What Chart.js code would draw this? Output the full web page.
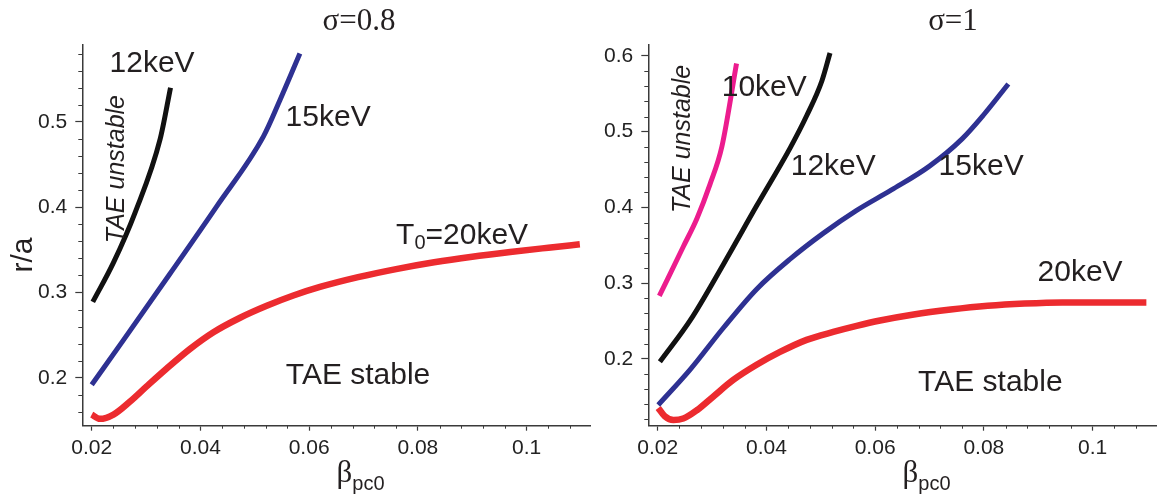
<!DOCTYPE html>
<html>
<head>
<meta charset="utf-8">
<script src="https://cdn.jsdelivr.net/npm/chart.js@4.4.1/dist/chart.umd.min.js"></script>
<style>
  html, body { margin: 0; padding: 0; background: #fff; }
  #wrap { position: relative; width: 1161px; height: 498px; }
  #left { position: absolute; left: 0; top: 0; }
  #right { position: absolute; left: 600px; top: 0; }
</style>
</head>
<body>
<div id="wrap">
  <canvas id="left" width="600" height="498"></canvas>
  <canvas id="right" width="561" height="498"></canvas>
</div>
<script>
// ---- sigma = 0.8 panel ----
var s08_12_beta = [0.0202, 0.0240, 0.0280, 0.0326, 0.0345];
var s08_12_ra   = [0.289, 0.335, 0.394, 0.480, 0.540];

var s08_15_beta = [0.0200, 0.0258, 0.0344, 0.0430, 0.0516, 0.0546, 0.0583];
var s08_15_ra   = [0.192, 0.244, 0.322, 0.401, 0.483, 0.525, 0.580];

var s08_20_beta = [0.0200, 0.0215, 0.0240, 0.0270, 0.0301, 0.0338, 0.0381, 0.0424, 0.0473, 0.0522, 0.0571, 0.0620, 0.0690, 0.0760, 0.0830, 0.0900, 0.0970, 0.1040, 0.1098];
var s08_20_ra   = [0.157, 0.152, 0.157, 0.172, 0.190, 0.211, 0.234, 0.2535, 0.2705, 0.2845, 0.2965, 0.3065, 0.318, 0.3275, 0.3355, 0.342, 0.3475, 0.3525, 0.3565];

// ---- sigma = 1 panel ----
var s1_10_beta = [0.0203, 0.0247, 0.0272, 0.0296, 0.0318, 0.0345];
var s1_10_ra   = [0.283, 0.348, 0.385, 0.430, 0.480, 0.590];

var s1_12_beta = [0.0204, 0.0260, 0.0321, 0.0382, 0.0444, 0.0474, 0.0502, 0.0517];
var s1_12_ra   = [0.196, 0.251, 0.325, 0.402, 0.479, 0.521, 0.567, 0.604];

var s1_15_beta = [0.0201, 0.0260, 0.0321, 0.0382, 0.0444, 0.0505, 0.0566, 0.0630, 0.0700, 0.0760, 0.0799, 0.0845];
var s1_15_ra   = [0.139, 0.186, 0.241, 0.292, 0.332, 0.366, 0.396, 0.423, 0.4545, 0.4905, 0.5217, 0.563];

var s1_20_beta = [0.0201, 0.0213, 0.0229, 0.0247, 0.0272, 0.0302, 0.0339, 0.0382, 0.0425, 0.0474, 0.0523, 0.0566, 0.0609, 0.0671, 0.0739, 0.0807, 0.0875, 0.0944, 0.1099];
var s1_20_ra   = [0.135, 0.124, 0.119, 0.121, 0.132, 0.150, 0.172, 0.192, 0.209, 0.225, 0.2355, 0.2435, 0.2505, 0.2585, 0.265, 0.270, 0.273, 0.2745, 0.2745];

// ---- ticks ----
var xTicks = [0.02, 0.04, 0.06, 0.08, 0.1];
var xTickLabels = ['0.02', '0.04', '0.06', '0.08', '0.1'];
var xMinor = [0.024, 0.028, 0.032, 0.036, 0.044, 0.048, 0.052, 0.056, 0.064, 0.068, 0.072, 0.076,
              0.084, 0.088, 0.092, 0.096, 0.104, 0.108];

var yTicksLeft = [0.2, 0.3, 0.4, 0.5];
var yTickLabelsLeft = ['0.2', '0.3', '0.4', '0.5'];
var yMinorLeft = [0.16, 0.18, 0.22, 0.24, 0.26, 0.28, 0.32, 0.34, 0.36, 0.38, 0.42, 0.44, 0.46, 0.48, 0.52, 0.54, 0.56, 0.58];

var yTicksRight = [0.2, 0.3, 0.4, 0.5, 0.6];
var yTickLabelsRight = ['0.2', '0.3', '0.4', '0.5', '0.6'];
var yMinorRight = [0.12, 0.14, 0.16, 0.18, 0.22, 0.24, 0.26, 0.28, 0.32, 0.34, 0.36, 0.38, 0.42, 0.44, 0.46, 0.48, 0.52, 0.54, 0.56, 0.58];

var RED = '#ec2b2f', BLUE = '#2e3192', BLACK = '#111111', PINK = '#ec1c8e';
var INK = '#231f20', AXIS = '#3a3a3a';
var SANS = '"Liberation Sans", Arial, Helvetica, sans-serif';
var SERIF = '"Liberation Serif", "Times New Roman", serif';

function pts(xs, ys) {
  return xs.map(function (x, i) { return { x: x, y: ys[i] }; });
}

function curve(xs, ys, color, w) {
  return {
    data: pts(xs, ys),
    borderColor: color,
    borderWidth: w,
    showLine: true,
    pointRadius: 0,
    cubicInterpolationMode: 'monotone',
    borderCapStyle: 'butt'
  };
}

// texts and minor tick marks
var annot = {
  id: 'annot',
  afterDraw: function (chart, args, o) {
    var c = chart.ctx, xs = chart.scales.x, ys = chart.scales.y, a = chart.chartArea;
    c.save();
    c.strokeStyle = AXIS;
    c.lineWidth = 1;
    o.minorX.forEach(function (v) {
      var px = Math.round(xs.getPixelForValue(v)) + 0.5;
      c.beginPath(); c.moveTo(px, a.bottom); c.lineTo(px, a.bottom + 3); c.stroke();
    });
    o.minorY.forEach(function (v) {
      var py = Math.round(ys.getPixelForValue(v)) + 0.5;
      c.beginPath(); c.moveTo(a.left, py); c.lineTo(a.left - 4, py); c.stroke();
    });

    c.fillStyle = INK;
    c.textAlign = 'center';
    c.textBaseline = 'middle';

    // title
    c.font = '31px ' + SERIF;
    c.fillText(o.title, o.titleX, 22);

    // x title: beta with subscript
    var bx = (a.left + a.right) / 2;
    c.textAlign = 'left';
    c.textBaseline = 'alphabetic';
    c.font = '31px ' + SERIF;
    c.fillText('\u03b2', bx, 482);
    var bw = c.measureText('\u03b2').width;
    c.font = '20px ' + SANS;
    c.fillText('pc0', bx + bw, 490);

    if (o.yTitle) {
      c.save();
      c.translate(24, 255);
      c.rotate(-Math.PI / 2);
      c.textAlign = 'center';
      c.textBaseline = 'middle';
      c.font = '30px ' + SANS;
      c.fillText(o.yTitle, 0, 0);
      c.restore();
    }

    o.labels.forEach(function (l) {
      var px = xs.getPixelForValue(l.x), py = ys.getPixelForValue(l.y);
      c.save();
      c.translate(px, py);
      if (l.rot) c.rotate(l.rot);
      c.font = (l.italic ? 'italic ' : '') + (l.size || 30) + 'px ' + SANS;
      if (l.sub) {
        // T0=20keV style, left aligned on baseline
        c.textAlign = 'left';
        c.textBaseline = 'alphabetic';
        c.fillText(l.text, 0, 0);
        var w1 = c.measureText(l.text).width;
        c.font = '20px ' + SANS;
        c.fillText(l.sub, w1, 5);
        var w2 = c.measureText(l.sub).width;
        c.font = (l.size || 30) + 'px ' + SANS;
        c.fillText(l.rest, w1 + w2, 0);
      } else {
        c.textAlign = 'center';
        c.textBaseline = 'middle';
        c.fillText(l.text, 0, 0);
      }
      c.restore();
    });
    c.restore();
  }
};

function panel(id, datasets, cfg) {
  return new Chart(document.getElementById(id), {
    type: 'scatter',
    data: { datasets: datasets },
    plugins: [annot],
    options: {
      responsive: false,
      animation: false,
      layout: { padding: { left: 0, top: 45, right: cfg.padRight, bottom: 0 } },
      plugins: {
        legend: { display: false },
        tooltip: { enabled: false },
        annot: cfg.annot
      },
      scales: {
        x: {
          type: 'linear',
          min: 0.01827,
          max: 0.1118,
          afterBuildTicks: function (s) { s.ticks = xTicks.map(function (v) { return { value: v }; }); },
          afterFit: function (s) { s.height = 72.3; },
          ticks: {
            callback: function (v, i) { return xTickLabels[i]; },
            font: { family: SANS, size: 21 },
            color: '#222',
            padding: 5,
            maxRotation: 0,
            autoSkip: false
          },
          grid: { drawOnChartArea: false, tickLength: 5, tickColor: AXIS, tickWidth: 1.2 },
          border: { color: AXIS, width: 1.5 }
        },
        y: {
          type: 'linear',
          min: cfg.yMin,
          max: cfg.yMax,
          afterBuildTicks: function (s) { s.ticks = cfg.yTicks.map(function (v) { return { value: v }; }); },
          afterFit: function (s) { s.width = cfg.yWidth; },
          ticks: {
            callback: function (v, i) { return cfg.yLabels[i]; },
            font: { family: SANS, size: 21 },
            color: '#222',
            padding: 8,
            autoSkip: false
          },
          grid: { drawOnChartArea: false, tickLength: 7, tickColor: AXIS, tickWidth: 1.2 },
          border: { color: AXIS, width: 1.5 }
        }
      }
    }
  });
}

panel('left', [
  curve(s08_12_beta, s08_12_ra, BLACK, 5),
  curve(s08_15_beta, s08_15_ra, BLUE, 5),
  curve(s08_20_beta, s08_20_ra, RED, 6.5)
], {
  padRight: 9.3, yWidth: 82.3, yMin: 0.144, yMax: 0.590,
  yTicks: yTicksLeft, yLabels: yTickLabelsLeft,
  annot: {
    title: '\u03c3=0.8', titleX: 359, yTitle: 'r/a',
    minorX: xMinor, minorY: yMinorLeft,
    labels: [
      { text: '12keV', x: 0.0311, y: 0.5676 },
      { text: '15keV', x: 0.0635, y: 0.5043 },
      { text: 'T', sub: '0', rest: '=20keV', x: 0.0760, y: 0.3568 },
      { text: 'TAE stable', x: 0.0690, y: 0.2022 },
      { text: 'TAE unstable', x: 0.0247, y: 0.4446, rot: -Math.PI / 2, italic: true, size: 25 }
    ]
  }
});

panel('right', [
  curve(s1_10_beta, s1_10_ra, PINK, 5),
  curve(s1_12_beta, s1_12_ra, BLACK, 5),
  curve(s1_15_beta, s1_15_ra, BLUE, 5),
  curve(s1_20_beta, s1_20_ra, RED, 6.5)
], {
  padRight: 4.3, yWidth: 48.3, yMin: 0.1116, yMax: 0.6145,
  yTicks: yTicksRight, yLabels: yTickLabelsRight,
  annot: {
    title: '\u03c3=1', titleX: 353, yTitle: null,
    minorX: xMinor, minorY: yMinorRight,
    labels: [
      { text: '10keV', x: 0.0396, y: 0.5577 },
      { text: '12keV', x: 0.0523, y: 0.4534 },
      { text: '15keV', x: 0.0795, y: 0.4534 },
      { text: '20keV', x: 0.0977, y: 0.3133 },
      { text: 'TAE stable', x: 0.0812, y: 0.1680 },
      { text: 'TAE unstable', x: 0.0247, y: 0.4904, rot: -Math.PI / 2, italic: true, size: 25 }
    ]
  }
});
</script>
</body>
</html>
